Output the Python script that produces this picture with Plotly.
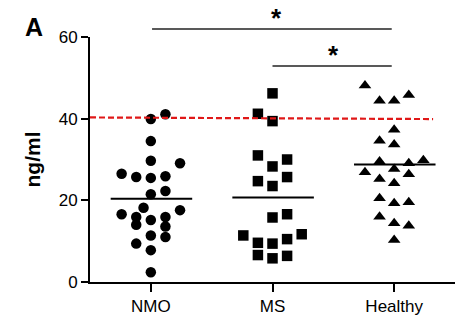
import plotly.graph_objects as go

categories = ["NMO", "MS", "Healthy"]

nmo_values = [41.1, 39.9, 34.5, 29.7, 29.1, 26.5, 25.7, 25.5, 25.9, 22.3, 21.5, 18.2, 17.6, 16.6,
              15.9, 14.0, 15.2, 15.9, 13.6, 11.4, 11.0, 9.4, 7.8, 2.4]
nmo_offset = [0.12, 0.0, 0.0, 0.0, 0.24, -0.24, -0.12, 0.0, 0.12, 0.12, 0.0, -0.06, 0.24, -0.24,
              -0.12, -0.12, 0.0, 0.12, 0.12, 0.0, 0.12, -0.12, 0.0, 0.0]

ms_values = [46.2, 41.2, 39.4, 31.0, 30.0, 28.3, 25.7, 24.7, 23.5, 16.6, 15.8, 11.4, 11.7, 9.6,
             9.4, 10.5, 6.6, 5.8, 6.4]
ms_offset = [0.0, -0.12, 0.0, -0.12, 0.12, 0.0, 0.12, -0.12, 0.0, 0.12, 0.0, -0.24, 0.24, -0.12,
             0.0, 0.12, -0.12, 0.0, 0.12]

healthy_values = [48.1, 44.4, 44.4, 45.8, 37.3, 34.6, 33.7, 29.5, 29.8, 29.1, 27.7, 26.9, 26.4,
                  25.2, 24.2, 20.5, 19.3, 19.5, 16.0, 14.4, 13.8, 10.3]
healthy_offset = [-0.24, -0.12, 0.0, 0.12, 0.0, -0.12, 0.0, -0.12, 0.24, 0.12, 0.0, -0.24, 0.12,
                  -0.12, 0.0, -0.12, 0.0, 0.12, -0.12, 0.0, 0.12, 0.0]

medians = [20.4, 20.7, 28.8]
cutoff_start, cutoff_end = 40.3, 39.9

y_ticks = [0, 20, 40, 60]

FONT = "Arial, Liberation Sans, sans-serif"

fig = go.Figure()

groups = [
    (nmo_values, nmo_offset, "circle", 10.5),
    (ms_values, ms_offset, "square", 10.5),
    (healthy_values, healthy_offset, "triangle-up", 11),
]
for i, (vals, offs, sym, sz) in enumerate(groups):
    fig.add_trace(go.Scatter(
        x=[i + o for o in offs], y=vals, mode="markers",
        marker=dict(symbol=sym, size=sz, color="black", line=dict(width=0)),
        cliponaxis=False, showlegend=False, hoverinfo="skip"))

# median lines
for i, m in enumerate(medians):
    fig.add_shape(type="line", xref="x", yref="y", x0=i - 0.33, x1=i + 0.34, y0=m, y1=m,
                  line=dict(color="black", width=2))

# dashed cutoff line
fig.add_shape(type="line", xref="x", yref="y", x0=-0.5, x1=2.32, y0=cutoff_start, y1=cutoff_end,
              line=dict(color="#e01818", width=2.2, dash="6px,3px"))

# significance bars
fig.add_shape(type="line", xref="x", yref="paper", x0=0.01, x1=1.98, y0=1.033, y1=1.033,
              line=dict(color="#222222", width=1.5))
fig.add_shape(type="line", xref="x", yref="paper", x0=1.0, x1=1.98, y0=0.882, y1=0.882,
              line=dict(color="#222222", width=1.5))
fig.add_annotation(text="<b>*</b>", xref="x", yref="paper", x=1.03, y=1.033, yanchor="bottom",
                   yshift=-6, showarrow=False, font=dict(size=26, family=FONT, color="black"))
fig.add_annotation(text="<b>*</b>", xref="x", yref="paper", x=1.5, y=0.882, yanchor="bottom",
                   yshift=-6, showarrow=False, font=dict(size=26, family=FONT, color="black"))

# panel letter
fig.add_annotation(text="<b>A</b>", xref="paper", yref="paper", x=0, y=1, xanchor="center",
                   yanchor="middle", xshift=-56, yshift=10, showarrow=False,
                   font=dict(size=25, family=FONT, color="black"))

# y title
fig.add_annotation(text="<b>ng/ml</b>", xref="paper", yref="paper", x=0, y=0.5, xanchor="center",
                   yanchor="middle", xshift=-58, textangle=-90, showarrow=False,
                   font=dict(size=21, family=FONT, color="black"))

fig.update_layout(
    width=466, height=335,
    margin=dict(l=90, r=11, t=37, b=53),
    plot_bgcolor="white", paper_bgcolor="white",
    font=dict(family=FONT, size=16, color="black"),
    xaxis=dict(range=[-0.5, 2.5], tickvals=[0, 1, 2], ticktext=categories,
               showline=True, linecolor="black", linewidth=2, ticks="outside",
               ticklen=8, tickwidth=2, tickcolor="black", showgrid=False, zeroline=False,
               tickfont=dict(size=17)),
    yaxis=dict(range=[0, 60], tickvals=y_ticks, showline=True, linecolor="black", linewidth=2,
               ticks="outside", ticklen=7, tickwidth=2, tickcolor="black", showgrid=False,
               zeroline=False, tickfont=dict(size=17)),
)

fig.write_html("out.html")
